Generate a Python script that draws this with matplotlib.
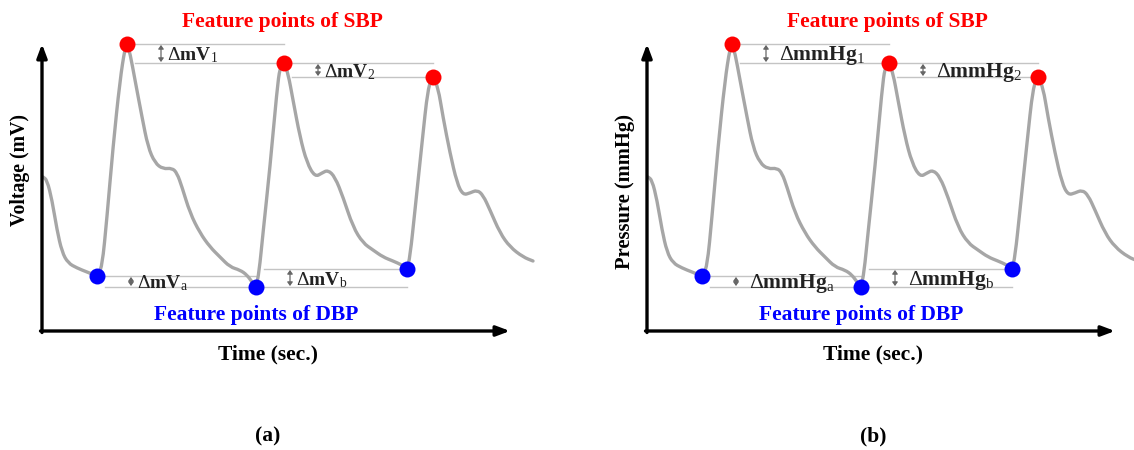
import matplotlib.pyplot as plt
from matplotlib.path import Path
from matplotlib.patches import PathPatch

plt.rcParams['font.family'] = 'Liberation Serif'
plt.rcParams['mathtext.fontset'] = 'custom'
plt.rcParams['mathtext.rm'] = 'Liberation Serif'
plt.rcParams['mathtext.bf'] = 'Liberation Serif:bold'
plt.rcParams['mathtext.it'] = 'Liberation Serif:italic'

# pulse waveform (time, amplitude - arbitrary units)
wave_t = [1, 5, 10, 15, 20, 26, 35, 45, 55, 60, 65, 71, 78, 83, 85,
          88, 93, 100, 106, 113, 121, 130, 135, 140, 148, 158, 168, 178, 188, 198, 205, 210, 214,
          217, 221, 228, 235, 238, 242,
          246, 251, 258, 265, 273, 280, 286, 293, 301, 311, 321, 331, 341, 351, 360, 365,
          368, 373, 380, 386, 391,
          396, 401, 408, 415, 421, 428, 435, 441, 448, 458, 468, 481, 491]
wave_v = [154, 151, 131, 101, 79, 68, 63, 59, 55, 63, 114, 184, 251, 283, 287,
          278, 251, 214, 184, 168, 162, 163, 158, 144, 118, 98, 84, 74, 64, 61, 56, 49, 44,
          58, 98, 164, 241, 264, 268,
          258, 231, 194, 168, 154, 158, 161, 154, 134, 104, 88, 81, 74, 70, 66, 62,
          74, 121, 188, 244, 254,
          244, 214, 178, 148, 136, 138, 141, 136, 121, 98, 84, 74, 70]

# feature points
sbp_t = [85, 242, 391]
sbp_v = [287, 268, 254]
dbp_t = [55, 214, 365]
dbp_v = [55, 44, 62]

sbp_subs = ["1", "2"]
dbp_subs = ["a", "b"]
tags = ["(a)", "(b)"]
y_labels = ["Voltage (mV)", "Pressure (mmHg)"]
units = ["mV", "mmHg"]

W, H = 1134, 450
fig = plt.figure(figsize=(W / 100, H / 100), dpi=100)
ax_a = fig.add_axes([0, 0, 560 / W, 1])
ax_b = fig.add_axes([560 / W, 0, 574 / W, 1])
ax_a.set_xlim(-42, 518)
ax_b.set_xlim(-87, 487)

grey = '#a6a6a6'
thin = '#c4c4c4'
red = '#ff0000'
blue = '#0000ff'


def smooth_path(ts, vs):
    # quadratic curve through segment midpoints, traced points act as controls
    pts = list(zip(ts, vs))
    mid = lambda p, q: ((p[0] + q[0]) / 2, (p[1] + q[1]) / 2)
    verts = [pts[0], mid(pts[0], pts[1])]
    codes = [Path.MOVETO, Path.LINETO]
    for i in range(1, len(pts) - 1):
        verts += [pts[i], mid(pts[i], pts[i + 1])]
        codes += [Path.CURVE3, Path.CURVE3]
    verts.append(pts[-1])
    codes.append(Path.LINETO)
    return Path(verts, codes)


def draw_panel(ax, ylab, ylab_size, unit, dsize, tag, gap):
    ax.set_ylim(-119, 331)
    ax.set_axis_off()

    # axes arrows
    ap = dict(arrowstyle='-|>,head_length=0.8,head_width=0.3', color='black',
              lw=2.4, shrinkA=0, shrinkB=0)
    ax.annotate('', xy=(0, 287), xytext=(0, -1.5), arrowprops=ap)
    ax.annotate('', xy=(468, 0), xytext=(-1.5, 0), arrowprops=ap)

    ax.add_patch(PathPatch(smooth_path(wave_t, wave_v), facecolor='none',
                           edgecolor=grey, lw=2.4, joinstyle='round',
                           capstyle='round', zorder=2))

    for pts_t, pts_v, subs, col in [(sbp_t, sbp_v, sbp_subs, red),
                                   (dbp_t, dbp_v, dbp_subs, blue)]:
        for i in range(len(pts_t) - 1):
            t0, t1 = pts_t[i], pts_t[i + 1]
            v0, v1 = pts_v[i], pts_v[i + 1]
            ax.plot([t0, t1], [v0, v0], color=thin, lw=1.0, zorder=1)
            ax.plot([t0 + 8, t1], [v1, v1], color=thin, lw=1.0, zorder=1)
            xa = t0 + 34
            ax.annotate('', xy=(xa, max(v0, v1) - 1), xytext=(xa, min(v0, v1) + 1),
                        arrowprops=dict(arrowstyle='<|-|>,head_length=0.22,head_width=0.16',
                                        color='#666666', lw=0.9, shrinkA=0, shrinkB=0,
                                        mutation_scale=10))
            ax.text(xa + gap, (v0 + v1) / 2 - 2,
                    r'$\Delta\mathbf{' + unit + r'}_{\mathrm{' + subs[i] + '}}$',
                    fontsize=dsize, ha='left', va='center', color='#222222')
        ax.plot(pts_t, pts_v, 'o', color=col, ms=11.5, mec='none', zorder=3)

    ax.text(240, 309, 'Feature points of SBP', color=red, fontsize=15.5,
            fontweight='bold', ha='center', va='center')
    ax.text(214, 16, 'Feature points of DBP', color=blue, fontsize=15.5,
            fontweight='bold', ha='center', va='center')
    ax.text(-22, 217, ylab, rotation=90, fontsize=ylab_size, fontweight='bold',
            ha='center', va='top')
    ax.text(226, -23, 'Time (sec.)', fontsize=15.5, fontweight='bold',
            ha='center', va='center')
    ax.text(226, -105, tag, fontsize=15.5, fontweight='bold',
            ha='center', va='center')


draw_panel(ax_a, y_labels[0], 14.2, units[0], 14, tags[0], 6)
draw_panel(ax_b, y_labels[1], 14.8, units[1], 15.5, tags[1], 13)

fig.savefig('out.png', dpi=100, facecolor='white')
